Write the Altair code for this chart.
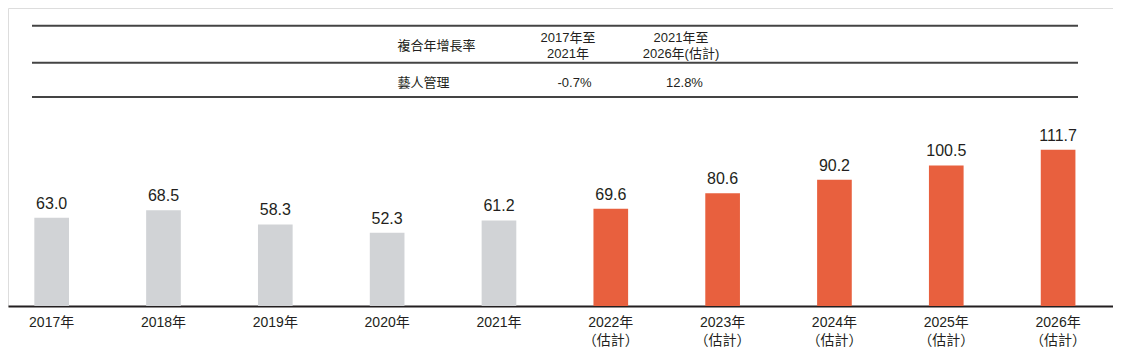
import altair as alt
import pandas as pd

# ---- data ----
years = ["2017年", "2018年", "2019年", "2020年", "2021年",
         "2022年\n（估計）", "2023年\n（估計）", "2024年\n（估計）", "2025年\n（估計）", "2026年\n（估計）"]
values = [63.0, 68.5, 58.3, 52.3, 61.2, 69.6, 80.6, 90.2, 100.5, 111.7]
kind = ["實際", "實際", "實際", "實際", "實際", "估計", "估計", "估計", "估計", "估計"]

table_header = "複合年增長率"
table_periods = ["2017年至\n2021年", "2021年至\n2026年(估計)"]
table_row_label = "藝人管理"
table_row_values = ["-0.7%", "12.8%"]

df = pd.DataFrame({"year": years, "value": values, "kind": kind})

FONT = "Liberation Sans, Arial, Noto Sans CJK TC, sans-serif"
TXT = "#231f20"
W, H = 1105, 298

x_enc = alt.X("year:N", sort=years,
              scale=alt.Scale(paddingInner=0.69, paddingOuter=0.2857, align=0.412),
              axis=alt.Axis(title=None, labelAngle=0, ticks=False, domain=True,
                            domainColor=TXT, domainWidth=2,
                            labelFont=FONT, labelFontSize=14, labelColor=TXT,
                            labelPadding=9, labelLineHeight=18,
                            labelExpr="split(datum.label, '\\n')"))
y_enc = alt.Y("value:Q", scale=alt.Scale(domain=[0, 213]), axis=None)

base = alt.Chart(df)
bars = base.mark_bar().encode(
    x=x_enc, y=y_enc,
    color=alt.Color("kind:N", scale=alt.Scale(domain=["實際", "估計"],
                                              range=["#d1d3d6", "#e8603e"]), legend=None),
)
labels = base.mark_text(font=FONT, fontSize=16, color=TXT, baseline="alphabetic", dy=-9).encode(
    x=alt.X("year:N", sort=years), y=y_enc, text=alt.Text("value:Q", format=".1f"))

one = pd.DataFrame({"k": [0]})

def cell(text, x, y, align="center"):
    return alt.Chart(one).mark_text(text=text, font=FONT, fontSize=13, color=TXT,
                                    align=align, baseline="middle", lineBreak="\n",
                                    lineHeight=16).encode(x=alt.value(x), y=alt.value(y))

def hline(y):
    return alt.Chart(one).mark_rule(color="#444444", strokeWidth=2).encode(
        x=alt.value(24), x2=alt.value(1070), y=alt.value(y))

table = [
    hline(17.7), hline(54.7), hline(89),
    cell(table_header, 389.5, 37.7, align="left"),
    cell(table_periods[0], 560, 30.3),
    cell(table_periods[1], 673, 30.3),
    cell(table_row_label, 389.5, 75.3, align="left"),
    cell(table_row_values[0], 566.5, 75.3),
    cell(table_row_values[1], 676.5, 75.3),
]

chart = alt.layer(bars, labels, *table).properties(
    width=W, height=H,
    autosize=alt.AutoSizeParams(type="none"),
    padding={"left": 0, "top": 0, "right": 0, "bottom": 56},
).configure_view(strokeWidth=0, strokeOpacity=0).configure(background="white")

chart.save("out.html", embed_options={"renderer": "svg", "actions": False})
